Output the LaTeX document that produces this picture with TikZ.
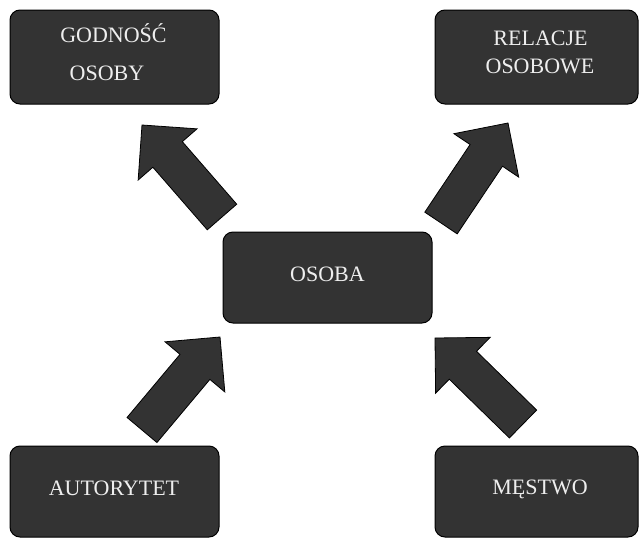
\documentclass[tikz,border=0pt]{standalone}
\usepackage{fontspec}
\setmainfont{Liberation Serif}
\usetikzlibrary{calc}
\definecolor{boxgray}{HTML}{333333}
\definecolor{txtwhite}{HTML}{EEEEEE}
\tikzset{
  boxnode/.style={draw=black, line width=1pt, fill=boxgray, rounded corners=10pt, inner sep=0pt},
  lbl/.style={text=txtwhite, font=\fontsize{22}{26}\selectfont, inner sep=0pt, anchor=base},
  blockarr/.style={draw=black, line width=0.8pt, fill=boxgray, line join=miter}
}
\newcommand\myblockarrow[2]{%
  \path ($(#2)!39pt!(#1)$) coordinate (hb);
  \draw[blockarr] ($(#1)!19.5pt!90:(#2)$) -- ($(hb)!19.5pt!90:(#2)$) -- ($(hb)!39pt!90:(#2)$) -- (#2)
    -- ($(hb)!39pt!-90:(#2)$) -- ($(hb)!19.5pt!-90:(#2)$) -- ($(#1)!19.5pt!-90:(#2)$) -- cycle;}
\begin{document}
\begin{tikzpicture}[x=1pt,y=-1pt]
\useasboundingbox[fill=white] (0,0) rectangle (640,538);
% boxes
\node[boxnode, minimum width=209pt, minimum height=94pt] (god) at (114.5,57) {};
\node[boxnode, minimum width=203pt, minimum height=94pt] (rel) at (536.5,57) {};
\node[boxnode, minimum width=209pt, minimum height=91pt] (oso) at (327.5,277.5) {};
\node[boxnode, minimum width=209pt, minimum height=91pt] (aut) at (114.5,491.5) {};
\node[boxnode, minimum width=203pt, minimum height=91pt] (mes) at (536.5,491.5) {};
% labels
\node[lbl] (godt1) at (113.5,42) {GODNOŚĆ};
\node[lbl] (godt2) at (107,80) {OSOBY};
\node[lbl] (relt1) at (540.5,45) {RELACJE};
\node[lbl] (relt2) at (540,73) {OSOBOWE};
\node[lbl] (osot) at (327.5,281) {OSOBA};
\node[lbl] (autt) at (114,495) {AUTORYTET};
\node[lbl] (mest) at (540,494.5) {MĘSTWO};
% arrow endpoints
\coordinate (a1t) at (222,217); \coordinate (a1h) at (142,125);
\coordinate (a2t) at (441,223); \coordinate (a2h) at (508,123);
\coordinate (a3t) at (142,430); \coordinate (a3h) at (220,337);
\coordinate (a4t) at (523,424); \coordinate (a4h) at (435,338);
\myblockarrow{a1t}{a1h}
\myblockarrow{a2t}{a2h}
\myblockarrow{a3t}{a3h}
\myblockarrow{a4t}{a4h}
\end{tikzpicture}
\end{document}
